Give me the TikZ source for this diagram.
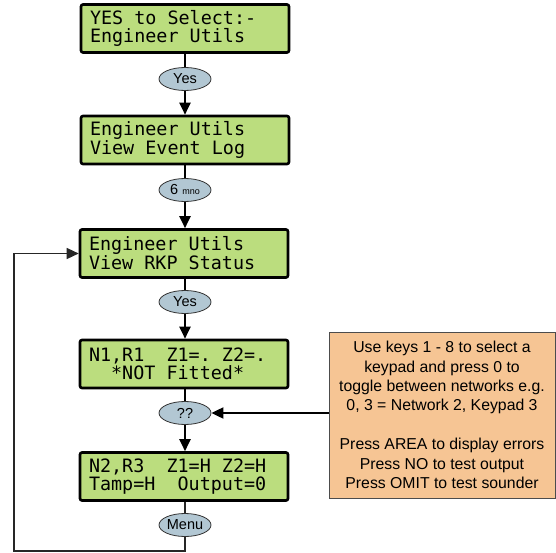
\documentclass[tikz,border=0pt]{standalone}
\usepackage{fontspec}
\setmainfont{Liberation Sans}
\newfontfamily\lcdfont{DejaVu Sans Mono}
\usetikzlibrary{shapes.geometric,arrows.meta}
\definecolor{lcdgreen}{RGB}{187,221,126}
\definecolor{keyblue}{RGB}{178,199,211}
\definecolor{noteorange}{RGB}{246,197,148}
\newcommand\lsp{\hphantom{0}}
\begin{document}
\begin{tikzpicture}[x=1pt,y=-1pt,
 lcd/.style={draw=black, line width=2.6pt, fill=lcdgreen, rounded corners=2pt,
   minimum width=208pt, minimum height=48pt, text width=190pt, align=left,
   inner xsep=9pt, font=\lcdfont\fontsize{18.4pt}{17.5pt}\selectfont},
 key/.style={ellipse, draw=black!80, line width=0.8pt, fill=keyblue,
   minimum width=52pt, minimum height=23pt, inner sep=0pt,
   font=\fontsize{14.5pt}{14.5pt}\selectfont},
 flow/.style={line width=2pt, -{Triangle[length=12pt,width=11pt]}},
 plainline/.style={line width=2pt},
 loopline/.style={line width=1.4pt, draw=black!85, -{Triangle[length=12pt,width=11pt]}},
 note/.style={draw=black!70, line width=0.8pt, fill=noteorange,
   minimum width=226pt, minimum height=166pt, align=center,
   font=\fontsize{15.8pt}{19.4pt}\selectfont}]
\useasboundingbox (0,0) rectangle (556,553);

\node[lcd] (b1) at (185,28.5) {YES\lsp to\lsp Select:-\\Engineer\lsp Utils};
\node[key] (e1) at (185,79) {Yes};
\node[lcd] (b2) at (185,140) {Engineer\lsp Utils\\View\lsp Event\lsp Log};
\node[key] (e2) at (185,190) {6 {\fontsize{9pt}{9pt}\selectfont mno}};
\node[lcd] (b3) at (184,253.5) {Engineer\lsp Utils\\View\lsp RKP\lsp Status};
\node[key] (e3) at (185,302) {Yes};
\node[lcd] (b4) at (184,364) {N1,R1\lsp\lsp Z1=.\lsp Z2=.\\\lsp\lsp*NOT\lsp Fitted*};
\node[key] (e4) at (185,413) {??};
\node[lcd] (b5) at (184,476.5) {N2,R3\lsp\lsp Z1=H\lsp Z2=H\\Tamp=H\lsp\lsp Output=0};
\node[key] (e5) at (185,525) {Menu};

\node[note] (n) at (442,415) {Use keys 1 - 8 to select a\\keypad and press 0 to\\toggle between networks e.g.\\0, 3 = Network 2, Keypad 3\\[19.4pt]Press AREA to display errors\\Press NO to test output\\Press OMIT to test sounder};

\coordinate (lb) at (14,551);

\draw[plainline] (b1) -- (e1);
\draw[flow] (e1) -- (b2);
\draw[plainline] (b2) -- (e2);
\draw[flow] (e2) -- (b3.north -| e2);
\draw[plainline] (b3.south -| e3) -- (e3);
\draw[flow] (e3) -- (b4.north -| e3);
\draw[plainline] (b4.south -| e4) -- (e4);
\draw[flow] (e4) -- (b5.north -| e4);
\draw[line width=1.4pt, draw=black!85] (b5.south -| e5) -- (e5.north);
\draw[loopline] (e5.south) |- (lb) |- (b3.west);
\draw[flow] (n.west |- e4.east) -- (e4.east);
\end{tikzpicture}
\end{document}
